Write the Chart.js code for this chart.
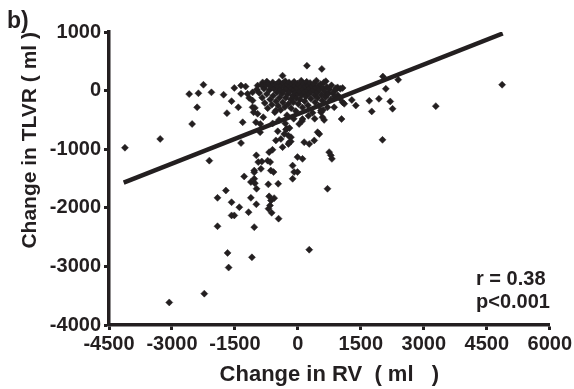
<!DOCTYPE html>
<html>
<head>
<meta charset="utf-8">
<script src="https://cdn.jsdelivr.net/npm/chart.js@4/dist/chart.umd.min.js"></script>
<style>
  html, body { margin: 0; padding: 0; background: #fff; }
  #wrap { width: 574px; height: 389px; }
</style>
</head>
<body>
<div id="wrap"><canvas id="myChart" width="574" height="389"></canvas></div>
<script>
// change in RV (ml) for each patient
var rvChange = [
    -4120, -3280, -2520, -2400, -2590, -2370, -2250, -2060, -2110, -1770,
    -1690, -1580, -1515, -1420, -1355, -1245, -1315, -1355, -1200, -1160,
    -1080, -1025, -960, -1055, -960, -840, -740, -825, -895, -990,
    -945, -1280, -1040, -880, -685, -605, -720, -645, -580, -525,
    -405, -365, -325, -260, -230, -165, -125, -90, -10, 110,
    150, 270, 390, 470, 510, 745, 785, 810, 215, -365,
    570, 665, 945, 1010, 1040, 865, 1065, 550, 625, 905,
    1065, 1285, 1380, 1105, 1700, 1760, 1930, 2025, 2095, 2390,
    2200, 2255, 2015, 3285, 4865, -125, -3065, -2230, -1650, -1675,
    -1095, -1915, -1040, -1580, -1515, -1395, -1580, -1915, -1715, -1175,
    -990, -1120, -700, -625, -665, -685, -565, -460, -985, -1120,
    -1040, -1025, -705, -470, -660, -10, 270, 705, -900, -480,
    -285, -205, -860, -1040, -640, -200, -170, -225, -1355, -1080,
    -1000, -1080,
    -980, -920, -870, -850, -810, -790, -760, -740, -720, -700,
    -680, -660, -640, -620, -600, -590, -570, -550, -530, -520,
    -500, -480, -470, -450, -440, -420, -410, -390, -380, -360,
    -350, -340, -320, -310, -300, -290, -270, -260, -250, -240,
    -230, -210, -200, -190, -170, -160, -150, -140, -120, -110,
    -100, -90, -70, -60, -50, -40, -20, -10, 0, 10,
    30, 40, 50, 70, 80, 90, 110, 120, 140, 150,
    160, 180, 190, 210, 220, 240, 250, 260, 280, 290,
    310, 320, 340, 350, 370, 380, 400, 410, 430, 440,
    460, 470, 490, 500, 520, 540, 560, 580, 600, 620,
    640, 660, 690, 720, 750, 780, 800, 830, 870, 900,
    950, 1000,
    -300, -100, 100, 250, 400, -600, 600, -450, 550, 705,
    30, 110, 585, -525
];
// change in TLVR (ml) for each patient
var tlvrChange = [
    -975, -825, -570, -285, -60, -45, 100, -30, -1195, -70,
    -385, -180, 45, -285, 85, 70, -540, -895, -55, -125,
    -170, -295, -395, -370, 85, 140, 155, -455, -570, -1105,
    -1220, -1465, -1365, -1335, -1050, -1010, -1195, -1365, -1390, -850,
    -825, -965, -740, -650, -765, -795, -1280, -1390, -1135, -1165,
    -880, -910, -850, -710, -740, -1050, -1105, -1165, 425, 255,
    370, 160, 55, 30, -485, -285, -200, -370, -500, 40,
    45, -160, -255, -225, -175, -355, -140, 240, 30, 185,
    -185, -310, -840, -265, 100, -1505, -3615, -3465, -3020, -2770,
    -2845, -2315, -2330, -2130, -2130, -1990, -1905, -1830, -1705, -2075,
    -1940, -1830, -2015, -2085, -1960, -1805, -1835, -2185, -1675, -1560,
    -1505, -1580, -1600, -1590, -1220, -1390, -2715, -1675, -710, -695,
    -665, -880, -1210, -1395, -1875, -640, -870, -910, -55, -285,
    -540, -30,
    20, -40, 95, -120, 30, -210, 90, -60, -300, 120,
    10, -150, 60, -240, 140, -90, 30, -370, 100, -180,
    -30, 70, -260, 150, -120, 20, -330, 90, -60, -200,
    130, -10, 60, -280, 160, -120, 30, -420, 100, -60,
    -230, 140, -20, 70, -150, -300, 40, 110, -90, -200,
    10, 150, -40, 80, -350, -130, 40, 120, -60, -230,
    90, -10, -150, 60, 170, -80, -290, 20, 110, -30,
    -180, 70, -100, 150, 0, -250, 90, -60, 30, 130,
    -140, -20, 80, -380, 10, 120, -80, -200, 50, 170,
    -30, -120, 80, -260, 20, 110, -70, -170, 40, 140,
    -20, -110, 60, -60, 20, -150, 90, -40, -100, 10,
    -80, -130,
    -560, -480, -520, -430, -480, -560, -330, -500, -340, -285,
    -570, -485, -455, -340
];

// regression line end points
var fitX = [-4150, 4880];
var fitY = [-1570, 975];

var xTicks = [-4500, -3000, -1500, 0, 1500, 3000, 4500, 6000];
var yTicks = [-4000, -3000, -2000, -1000, 0, 1000];

var ink = '#231f20';
Chart.defaults.font.family = '"Liberation Sans", Arial, sans-serif';
Chart.defaults.font.weight = 'bold';
Chart.defaults.color = ink;

var points = rvChange.map(function(x, i) {
    return { x: x, y: tlvrChange[i] };
});
var fitLine = fitX.map(function(x, i) {
    return { x: x, y: fitY[i] };
});

// panel letter and statistics text
var extraText = {
    id: 'extraText',
    afterDraw: function(chart) {
        var ctx = chart.ctx;
        ctx.save();
        ctx.fillStyle = ink;
        ctx.textBaseline = 'alphabetic';
        ctx.textAlign = 'left';
        ctx.font = 'bold 23px "Liberation Sans", Arial, sans-serif';
        ctx.fillText('b)', 7, 28);
        ctx.font = 'bold 20px "Liberation Sans", Arial, sans-serif';
        ctx.fillText('r = 0.38', 476, 285);
        ctx.fillText('p<0.001', 476, 308);
        ctx.restore();
    }
};

function plainLabel(value) {
    return String(value);
}

var myChart = new Chart(document.getElementById('myChart'), {
    type: 'scatter',
    data: {
        datasets: [{
            data: points,
            pointStyle: 'rectRot',
            pointRadius: 3.5,
            pointBackgroundColor: ink,
            pointBorderColor: ink,
            pointBorderWidth: 0.5,
            order: 2
        }, {
            type: 'line',
            data: fitLine,
            borderColor: ink,
            borderWidth: 4.5,
            pointRadius: 0,
            fill: false,
            order: 1
        }]
    },
    options: {
        responsive: false,
        animation: false,
        layout: { padding: { top: 32, right: 24, left: 0, bottom: 0 } },
        plugins: { legend: { display: false }, tooltip: { enabled: false } },
        scales: {
            x: {
                type: 'linear',
                min: xTicks[0],
                max: xTicks[xTicks.length - 1],
                afterBuildTicks: function(axis) {
                    axis.ticks = xTicks.map(function(v) { return { value: v }; });
                },
                afterFit: function(axis) { axis.height = 64; },
                ticks: { font: { size: 20, weight: 'bold' }, color: ink, padding: 2, autoSkip: false, maxRotation: 0, callback: plainLabel },
                grid: { drawOnChartArea: false, tickLength: 5, tickWidth: 3, tickColor: ink },
                border: { display: true, width: 3.5, color: ink },
                title: {
                    display: true,
                    text: 'Change in RV  ( ml   )',
                    font: { size: 22, weight: 'bold' },
                    color: ink,
                    padding: { top: 0, bottom: 1 }
                }
            },
            y: {
                type: 'linear',
                min: yTicks[0],
                max: yTicks[yTicks.length - 1],
                afterBuildTicks: function(axis) {
                    axis.ticks = yTicks.map(function(v) { return { value: v }; });
                },
                afterFit: function(axis) { axis.width = 109; },
                ticks: { font: { size: 20, weight: 'bold' }, color: ink, padding: 3, callback: plainLabel },
                grid: { drawOnChartArea: false, tickLength: 5, tickWidth: 3, tickColor: ink },
                border: { display: true, width: 3.5, color: ink },
                title: {
                    display: true,
                    text: 'Change in TLVR ( ml )',
                    align: 'end',
                    font: { size: 21, weight: 'bold' },
                    color: ink,
                    padding: { top: 18, bottom: 0 }
                }
            }
        }
    },
    plugins: [extraText]
});
</script>
</body>
</html>
